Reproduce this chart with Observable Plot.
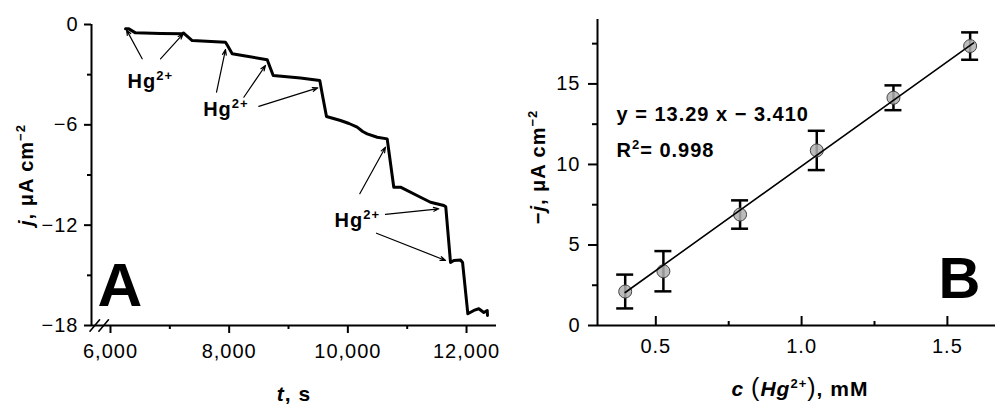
<!DOCTYPE html>
<html><head><meta charset="utf-8">
<script src="https://cdn.jsdelivr.net/npm/d3@7"></script>
<script src="https://cdn.jsdelivr.net/npm/@observablehq/plot@0.6"></script>
<style>
html,body{margin:0;padding:0;background:#fff;}
#wrap{position:relative;width:995px;height:405px;overflow:hidden;background:#fff;}
#wrap svg{position:absolute;top:0;}
#wrap svg text{letter-spacing:1px;}
</style></head><body>
<div id="wrap"></div>
<script>
const FONT = "'Liberation Sans', Arial, Helvetica, sans-serif";

// ---------- Panel A: chronoamperometric current density vs time ----------
const timeS = [6253, 6309, 6421, 6843, 7208, 7230, 7281, 7377, 7938, 7972, 8051, 8275, 8641, 8742, 9202, 9527, 9573, 9640, 9876, 10020, 10157, 10250, 10326, 10495, 10663, 10774, 10887, 11224, 11393, 11617, 11650, 11730, 11786, 11899, 11933, 12022, 12123, 12207, 12291, 12349, 12353];
const currentDensity = [-0.26, -0.26, -0.50, -0.54, -0.56, -0.51, -0.66, -0.96, -1.06, -1.26, -1.75, -1.88, -2.11, -3.05, -3.20, -3.35, -4.25, -5.50, -5.74, -5.92, -6.14, -6.40, -6.54, -6.74, -6.84, -9.73, -9.73, -10.33, -10.63, -10.82, -10.90, -14.23, -14.11, -14.08, -14.23, -17.30, -17.10, -17.00, -17.22, -17.10, -17.40];
const xTicksA = [6000, 8000, 10000, 12000];
const xMinorA = [7000, 9000, 11000];
const yTicksA = [0, -6, -12, -18];
const yMinorA = [-3, -9, -15];
const axisBreakT = [5735, 5885];
// annotation arrows (data units: start -> end)
const arrowStartT = [6534, 6843, 7787, 8247, 8499, 10201, 10634, 10483];
const arrowStartJ = [-2.05, -2.05, -4.05, -4.35, -4.90, -10.12, -11.36, -12.48];
const arrowEndT = [6270, 7225, 7938, 8612, 9494, 10634, 11533, 11646];
const arrowEndJ = [-0.32, -0.56, -1.50, -2.45, -3.79, -7.34, -11.02, -14.11];
const hgLabel = "Hg2+";
const labelT = [6287, 7562, 9775];
const labelJ = [-3.79, -5.50, -12.08];

// ---------- Panel B: calibration ----------
const concMM = [0.395, 0.526, 0.789, 1.052, 1.315, 1.578];
const minusJ = [2.11, 3.37, 6.89, 10.87, 14.14, 17.35];
const errJ = [1.05, 1.25, 0.88, 1.22, 0.77, 0.85];
const fitX = [0.395, 1.59];
const fitY = [2.05, 17.55];
const slope = "13.29", intercept = "3.410", r2 = "0.998";
const xTicksB = [0.5, 1.0, 1.5];
const xMinorB = [0.75, 1.25];
const yTicksB = [0, 5, 10, 15];
const yMinorB = [2.5, 7.5, 12.5, 17.5];

const minusFmt = d => d < 0 ? "\u2212" + (-d) : String(d);
const blank = () => "";
const lineShape = {draw(context, l) { context.moveTo(0, 0); context.lineTo(0, -l); }};

const curve = timeS.map((t, i) => ({t, j: currentDensity[i]}));
const arrows = arrowStartT.map((_, i) => ({x1: arrowStartT[i], y1: arrowStartJ[i], x2: arrowEndT[i], y2: arrowEndJ[i]}));
const labels = labelT.map((t, i) => ({t, j: labelJ[i], s: hgLabel}));

const plotA = Plot.plot({
  width: 500, height: 405,
  marginLeft: 91, marginRight: 4, marginTop: 24, marginBottom: 80,
  x: {domain: [5680, 12505], label: null},
  y: {domain: [-18, 0], label: null},
  style: {fontFamily: FONT, fontSize: "20px", color: "#000", background: "transparent", overflow: "visible"},
  marks: [
    Plot.ruleY([-18], {strokeWidth: 2}),
    Plot.ruleX([5680], {y1: -18, y2: 0, strokeWidth: 2}),
    Plot.axisX(xTicksA, {tickSize: 8, tickPadding: 10, strokeWidth: 2, tickFormat: d3.format(","), label: null}),
    Plot.axisX(xMinorA, {tickSize: 4, strokeWidth: 2, tickFormat: blank, label: null}),
    Plot.axisY(yTicksA, {tickSize: 7, tickPadding: 6, strokeWidth: 2, tickFormat: minusFmt, label: null}),
    Plot.axisY(yMinorA, {tickSize: 4, strokeWidth: 2, tickFormat: blank, label: null}),
    Plot.vector(axisBreakT, {x: d => d, y: -18, length: 15, rotate: 40, anchor: "middle", shape: lineShape, strokeWidth: 1.6}),
    Plot.line(curve, {x: "t", y: "j", strokeWidth: 3, strokeLinejoin: "round", strokeLinecap: "round"}),
    Plot.arrow(arrows, {x1: "x1", y1: "y1", x2: "x2", y2: "y2", strokeWidth: 1.2, headLength: 7, headAngle: 40}),
    Plot.text(labels, {x: "t", y: "j", text: "s", textAnchor: "start", lineAnchor: "bottom", fontWeight: "bold", fontSize: 20}),
    Plot.text(["A"], {frameAnchor: "bottom-left", text: d => d, dx: 6, dy: -20, textAnchor: "start", lineAnchor: "bottom", fontWeight: "bold", fontSize: 62})
  ]
});

const pts = concMM.map((c, i) => ({c, j: minusJ[i], lo: minusJ[i] - errJ[i], hi: minusJ[i] + errJ[i]}));
const fit = fitX.map((x, i) => ({x, y: fitY[i]}));
const eqText = `y = ${slope} x \u2212 ${intercept}`;
const r2Text = `R2= ${r2}`;

const plotB = Plot.plot({
  width: 495, height: 405,
  marginLeft: 97, marginRight: 0, marginTop: 19, marginBottom: 80,
  x: {domain: [0.3, 1.665], label: null},
  y: {domain: [0, 19], label: null},
  style: {fontFamily: FONT, fontSize: "20px", color: "#000", background: "transparent", overflow: "visible"},
  marks: [
    Plot.ruleY([0], {strokeWidth: 2}),
    Plot.ruleX([0.3], {y1: 0, y2: 19, strokeWidth: 2}),
    Plot.axisX(xTicksB, {tickSize: 9, dy: -9, strokeWidth: 2, tickFormat: blank, label: null}),
    Plot.axisX(xMinorB, {tickSize: 4, dy: -4, strokeWidth: 2, tickFormat: blank, label: null}),
    Plot.axisX(xTicksB, {tickSize: 0, tickPadding: 13, tickFormat: d3.format(".1f"), label: null}),
    Plot.axisY(yTicksB, {tickSize: 9, tickPadding: 8, strokeWidth: 2, tickFormat: minusFmt, label: null}),
    Plot.axisY(yMinorB, {tickSize: 5, strokeWidth: 2, tickFormat: blank, label: null}),
    Plot.ruleX(pts, {x: "c", y1: "lo", y2: "hi", strokeWidth: 2.5}),
    Plot.ruleY(pts, {y: "hi", x1: "c", x2: "c", insetLeft: -8.5, insetRight: -8.5, strokeWidth: 2.5}),
    Plot.ruleY(pts, {y: "lo", x1: "c", x2: "c", insetLeft: -8.5, insetRight: -8.5, strokeWidth: 2.5}),
    Plot.dot(pts, {x: "c", y: "j", r: 6.5, fill: "#b0b0b0", fillOpacity: 0.85, stroke: "#444", strokeWidth: 1}),
    Plot.line(fit, {x: "x", y: "y", strokeWidth: 1.6}),
    Plot.text([eqText], {frameAnchor: "top-left", text: d => d, dx: 19, dy: 101, textAnchor: "start", lineAnchor: "bottom", fontWeight: "bold", fontSize: 20}),
    Plot.text([r2Text], {frameAnchor: "top-left", text: d => d, dx: 19, dy: 137, textAnchor: "start", lineAnchor: "bottom", fontWeight: "bold", fontSize: 20}),
    Plot.text(["B"], {frameAnchor: "bottom-right", text: d => d, dx: -14, dy: -28, textAnchor: "end", lineAnchor: "bottom", fontWeight: "bold", fontSize: 58})
  ]
});

const wrap = document.getElementById("wrap");
plotA.style.left = "0px";
plotB.style.left = "500px";
wrap.appendChild(plotA);
wrap.appendChild(plotB);

// superscripts inside Plot texts
d3.select(plotA).selectAll("text").filter(function () { return this.textContent === hgLabel; }).each(function () {
  const t = d3.select(this); t.text(null);
  t.append("tspan").text("Hg");
  t.append("tspan").attr("dy", -8).attr("font-size", 13).text("2+");
});
d3.select(plotB).selectAll("text").filter(function () { return this.textContent === r2Text; }).each(function () {
  const t = d3.select(this); t.text(null);
  t.append("tspan").text("R");
  t.append("tspan").attr("dy", -8).attr("font-size", 13).text("2");
  t.append("tspan").attr("dy", 8).text("= " + r2);
});

// rich axis titles
function richText(svg, {x, y, rotate = 0, size = 20, anchor = "middle"}, parts) {
  const g = d3.select(svg).append("g").attr("transform", `translate(${x},${y})` + (rotate ? ` rotate(${rotate})` : ""));
  const t = g.append("text").attr("text-anchor", anchor).attr("font-family", FONT)
    .attr("font-size", size).attr("font-weight", "bold").attr("fill", "#000");
  for (const p of parts) {
    const s = t.append("tspan").text(p.text);
    if (p.italic) s.attr("font-style", "italic");
    if (p.weight) s.attr("font-weight", p.weight);
    if (p.size) s.attr("font-size", p.size);
    if (p.dy) s.attr("dy", p.dy);
  }
}
richText(plotA, {x: 294, y: 401, size: 21}, [{text: "t", italic: true}, {text: ", s"}]);
richText(plotA, {x: 33, y: 175, rotate: -90, size: 20}, [{text: "j", italic: true}, {text: ", \u03bcA cm"}, {text: "\u22122", size: 13, dy: -8}]);
richText(plotB, {x: 45, y: 167, rotate: -90, size: 20}, [{text: "\u2212"}, {text: "j", italic: true}, {text: ", \u03bcA cm"}, {text: "\u22122", size: 13, dy: -8}]);
richText(plotB, {x: 300, y: 396, size: 21}, [
  {text: "c", italic: true}, {text: " "}, {text: "(", weight: "normal", size: 25},
  {text: "Hg", italic: true}, {text: "2+", size: 13, dy: -8},
  {text: ")", weight: "normal", size: 25, dy: 8}, {text: ", mM"}
]);
</script></body></html>
